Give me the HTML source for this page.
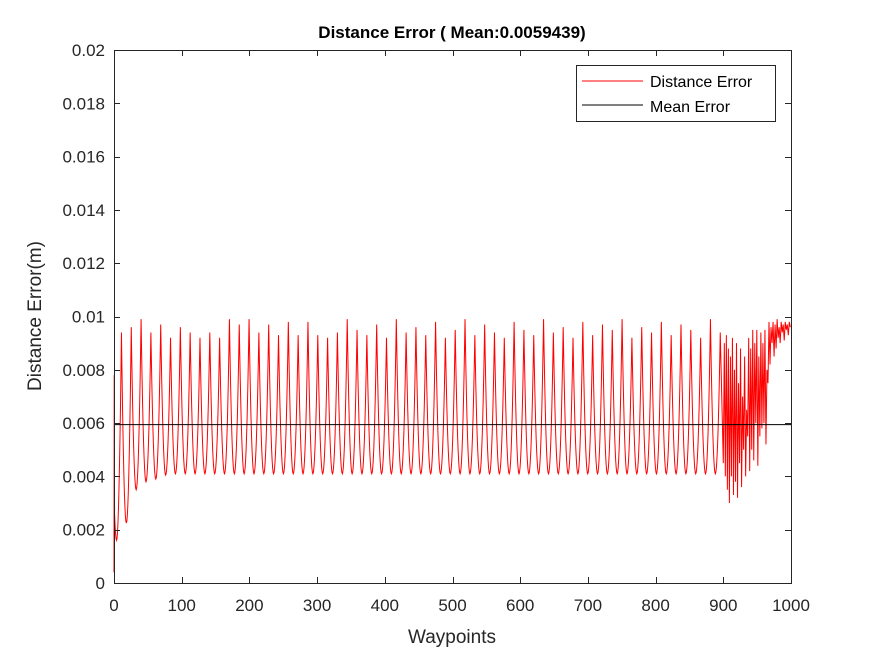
<!DOCTYPE html>
<html><head><meta charset="utf-8"><style>
html,body{margin:0;padding:0;background:#fff;}
svg{display:block;font-family:"Liberation Sans",Arial,sans-serif;}
</style></head><body>
<svg id="chart" width="875" height="656" viewBox="0 0 875 656">
<rect x="0" y="0" width="875" height="656" fill="#fff"/>
<rect x="114" y="50" width="677" height="533" fill="#fff"/>
<g id="series"></g>
<g id="axes"></g>
<text x="452" y="38" text-anchor="middle" font-size="17" font-weight="bold" fill="#000">Distance Error ( Mean:0.0059439)</text>
<text x="452" y="643" text-anchor="middle" font-size="19" fill="#262626">Waypoints</text>
<text transform="translate(41,316) rotate(-90)" text-anchor="middle" font-size="19" fill="#262626">Distance Error(m)</text>
<g>
<rect x="576.5" y="65.5" width="199" height="56" fill="#fff" stroke="#262626" stroke-width="1"/>
<line x1="582" y1="81" x2="643" y2="81" stroke="#f00" stroke-width="1"/>
<text x="650" y="87" font-size="16" fill="#000">Distance Error</text>
<line x1="582" y1="105" x2="643" y2="105" stroke="#000" stroke-width="1"/>
<text x="650" y="112" font-size="16" fill="#000">Mean Error</text>
</g>
</svg>
<script>
const xTicks = [0,100,200,300,400,500,600,700,800,900,1000];
const yTicks = [0,0.002,0.004,0.006,0.008,0.01,0.012,0.014,0.016,0.018,0.02];
const yTickLabels = ["0","0.002","0.004","0.006","0.008","0.01","0.012","0.014","0.016","0.018","0.02"];
const meanError = 0.0059439;
const cyclePeriod = 14.5;
const cycleOffset = -3.5;
const startValue = 0.0004;
const startJump = 0.0078;
const cyclePeaks = [0.0094,0.0096,0.0099,0.0094,0.0097,0.0092,0.0096,0.0094,0.0092,0.0094,0.0092,0.0099,0.0097,0.0099,0.0094,0.0097,0.0093,0.0098,0.0093,0.0098,0.0093,0.0092,0.0094,0.0099,
0.0095,0.0093,0.0097,0.0092,0.0099,0.0094,0.0096,0.0093,0.0098,0.0092,0.0095,0.0099,0.0093,0.0097,0.0094,0.0092,0.0098,0.0095,0.0093,0.0099,0.0094,0.0096,0.0092,0.0098,0.0093,0.0097,0.0095,0.0099,0.0092,0.0096,0.0094,0.0098,0.0093,0.0097,0.0095,0.0092,0.0099,0.0094];
const cycleTroughs = [0.0016,0.00225,0.0035,0.0038,0.0039,0.00405,0.0041,0.0041,0.0041,0.0041,0.0041,0.0041,0.0041,0.0041,0.0041,0.0041,0.0041,0.0041,0.0041,0.0041,0.0041,0.0041,0.0041,0.0041,
0.0041,0.0041,0.0041,0.0041,0.0041,0.0041,0.0041,0.0041,0.0041,0.0041,0.0041,0.0041,0.0041,0.0041,0.0041,0.0041,0.0041,0.0041,0.0041,0.0041,0.0041,0.0041,0.0041,0.0041,0.0041,0.0041,0.0041,0.0041,0.0041,0.0041,0.0041,0.0041,0.0041,0.0041,0.0041,0.0041,0.0041,0.0041];
const tailStart = 900;
const tailStep = 1.5;
const tailValues = [0.0045,0.0090,0.0040,0.0093,0.0035,0.0088,0.0030,0.0085,0.0040,0.0092,0.0033,0.0080,0.0038,0.0090,0.0032,0.0075,0.0045,0.0088,0.0036,0.0070,0.0050,0.0085,0.0040,0.0065,0.0055,0.0092,0.0042,0.0088,0.0050,0.0095,0.0046,0.0090,0.0060,0.0095,0.0044,0.0085,0.0055,0.0094,0.0058,0.0090,0.0060,0.0095,0.0052,0.0080,0.0075,0.0098,0.0082,0.0096,0.0090,0.0098,0.0085,0.0097,0.0088,0.0099,0.0092,0.0096,0.0090,0.0098,0.0094,0.0097,0.0091,0.0098,0.0095,0.0097,0.0093,0.0098,0.0096];

const NS = "http://www.w3.org/2000/svg";
const X0 = 114, X1 = 791, Y0 = 583, Y1 = 50;
function xScale(v){ return X0 + (v - xTicks[0]) / (xTicks[xTicks.length-1] - xTicks[0]) * (X1 - X0); }
function yScale(v){ return Y0 - (v - yTicks[0]) / (yTicks[yTicks.length-1] - yTicks[0]) * (Y0 - Y1); }

const pts = [];
pts.push([0, startValue]);
pts.push([0.3, startJump]);
for (let c = 0; c < cyclePeaks.length; c++) {
  const t0 = cycleOffset + c * cyclePeriod;
  const trough = cycleTroughs[c], prevPeak = c === 0 ? startJump : cyclePeaks[c-1], peak = cyclePeaks[c];
  for (let k = 1; k <= 20; k++) {
    const t = t0 + k * cyclePeriod / 20;
    if (t <= 0.3) continue;
    if (t > tailStart) break;
    const u = k / 20;
    let v;
    if (u <= 0.5) { const w = 1 - u / 0.5; v = trough + (prevPeak - trough) * w * w; }
    else { const w = (u - 0.5) / 0.5; v = trough + (peak - trough) * w * w; }
    pts.push([t, v]);
  }
}
for (let i = 0; i < tailValues.length; i++) pts.push([tailStart + i * tailStep, tailValues[i]]);

const series = document.getElementById('series');
const path = document.createElementNS(NS, 'path');
path.setAttribute('d', pts.map((p,i)=>(i?'L':'M')+xScale(p[0]).toFixed(2)+','+yScale(p[1]).toFixed(2)).join(''));
path.setAttribute('fill','none'); path.setAttribute('stroke','#f00'); path.setAttribute('stroke-width','1');


series.appendChild(path);

const mean = document.createElementNS(NS, 'line');
mean.setAttribute('x1', xScale(xTicks[0])); mean.setAttribute('x2', xScale(xTicks[xTicks.length-1]));
mean.setAttribute('y1', yScale(meanError)); mean.setAttribute('y2', yScale(meanError));
mean.setAttribute('stroke','#000'); mean.setAttribute('stroke-width','1');


series.appendChild(mean);

const axes = document.getElementById('axes');
const box = document.createElementNS(NS, 'rect');
box.setAttribute('x', X0 + 0.5); box.setAttribute('y', Y1 + 0.5);
box.setAttribute('width', X1 - X0); box.setAttribute('height', Y0 - Y1);
box.setAttribute('fill','none'); box.setAttribute('stroke','#262626'); box.setAttribute('stroke-width','1');


axes.appendChild(box);

xTicks.forEach((t) => {
  const x = Math.round(xScale(t)) + 0.5;
  const l1 = document.createElementNS(NS, 'path');
  l1.setAttribute('d', `M${x},${Y0}V${Y0-6}M${x},${Y1}V${Y1+6}`);
  l1.setAttribute('stroke','#262626');
  
  
  axes.appendChild(l1);
  const tx = document.createElementNS(NS, 'text');
  tx.setAttribute('x', xScale(t)); tx.setAttribute('y', 611);
  tx.setAttribute('text-anchor','middle'); tx.setAttribute('font-size','17'); tx.setAttribute('fill','#262626');
  tx.textContent = String(t);
  
  
  axes.appendChild(tx);
});
yTicks.forEach((t, i) => {
  const y = Math.round(yScale(t)) + 0.5;
  const l1 = document.createElementNS(NS, 'path');
  l1.setAttribute('d', `M${X0},${y}H${X0+6}M${X1},${y}H${X1-6}`);
  l1.setAttribute('stroke','#262626');
  
  
  axes.appendChild(l1);
  const tx = document.createElementNS(NS, 'text');
  tx.setAttribute('x', 105); tx.setAttribute('y', yScale(t) + 6);
  tx.setAttribute('text-anchor','end'); tx.setAttribute('font-size','17'); tx.setAttribute('fill','#262626');
  tx.textContent = yTickLabels[i];
  
  
  axes.appendChild(tx);
});
</script>
</body></html>
